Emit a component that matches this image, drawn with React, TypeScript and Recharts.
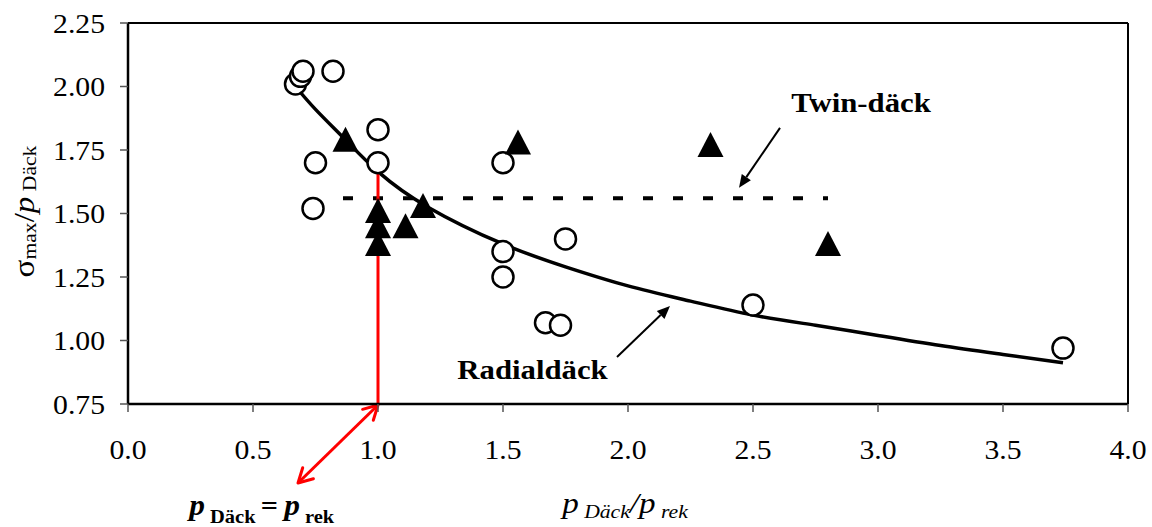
import React from "react";
import {
  ComposedChart,
  XAxis,
  YAxis,
  Scatter,
  Line,
  ReferenceLine,
  ReferenceDot,
} from "recharts";

// ---- data ----
const xTicks = [0, 0.5, 1.0, 1.5, 2.0, 2.5, 3.0, 3.5, 4.0];
const yTicks = [0.75, 1.0, 1.25, 1.5, 1.75, 2.0, 2.25];

const radialPoints = [
  { x: 0.67, y: 2.01 },
  { x: 0.69, y: 2.04 },
  { x: 0.7, y: 2.06 },
  { x: 0.82, y: 2.06 },
  { x: 0.75, y: 1.7 },
  { x: 0.74, y: 1.52 },
  { x: 1.0, y: 1.83 },
  { x: 1.0, y: 1.7 },
  { x: 1.5, y: 1.7 },
  { x: 1.5, y: 1.35 },
  { x: 1.5, y: 1.25 },
  { x: 1.75, y: 1.4 },
  { x: 1.67, y: 1.07 },
  { x: 1.73, y: 1.06 },
  { x: 2.5, y: 1.14 },
  { x: 3.74, y: 0.97 },
];

const twinPoints = [
  { x: 0.87, y: 1.79 },
  { x: 1.0, y: 1.51 },
  { x: 1.0, y: 1.45 },
  { x: 1.0, y: 1.38 },
  { x: 1.11, y: 1.45 },
  { x: 1.18, y: 1.53 },
  { x: 1.56, y: 1.78 },
  { x: 2.33, y: 1.77 },
  { x: 2.8, y: 1.38 },
];

const radialCurve = [
  { x: 0.67, y: 2.0 },
  { x: 0.75, y: 1.91 },
  { x: 0.87, y: 1.79 },
  { x: 1.0, y: 1.665 },
  { x: 1.2, y: 1.525 },
  { x: 1.5, y: 1.38 },
  { x: 1.75, y: 1.29 },
  { x: 2.0, y: 1.215 },
  { x: 2.25, y: 1.155 },
  { x: 2.5, y: 1.1 },
  { x: 2.75, y: 1.06 },
  { x: 3.0, y: 1.02 },
  { x: 3.25, y: 0.98 },
  { x: 3.5, y: 0.945 },
  { x: 3.74, y: 0.912 },
];

const twinLevel = [
  { x: 0.86, y: 1.56 },
  { x: 2.8, y: 1.56 },
];

const pRef = 1.0;
const pRefCurveValue = 1.66;

// annotation anchors (data coordinates)
const twinLabelPos = { x: 2.932, y: 1.901 };
const twinArrow = [{ x: 2.608, y: 1.837 }, { x: 2.444, y: 1.601 }];
const radialLabelPos = { x: 1.618, y: 0.848 };
const radialArrow = [{ x: 1.956, y: 0.935 }, { x: 2.168, y: 1.136 }];
const redArrow = [{ x: 0.68, y: 0.439 }, { x: 1.0, y: 0.746 }];
const eqLabelPos = { x: 0.535, y: 0.313 };

// ---- styles ----
const FONT = "'Liberation Serif', 'Times New Roman', serif";
const SX = 1.1;
const SXL = 1.14;

const XTick = (props: any) => {
  const { x, y, payload } = props;
  return (
    <g transform={`translate(${x},${y}) scale(${SX},1)`}>
      <text x={0} y={0} dy="0.71em" textAnchor="middle" fontFamily={FONT} fontSize={27} fill="#000">
        {Number(payload.value).toFixed(1)}
      </text>
    </g>
  );
};

const YTick = (props: any) => {
  const { x, y, payload } = props;
  return (
    <g transform={`translate(${x},${y}) scale(${SX},1)`}>
      <text x={0} y={0} dy="0.355em" textAnchor="end" fontFamily={FONT} fontSize={27} fill="#000">
        {Number(payload.value).toFixed(2)}
      </text>
    </g>
  );
};

const circleShape = (p: any) => (
  <circle cx={p.cx} cy={p.cy} r={10.5} fill="#fff" stroke="#000" strokeWidth={2.5} />
);

const triangleShape = (p: any) => (
  <polygon
    points={`${p.cx},${p.cy - 13} ${p.cx - 13},${p.cy + 12} ${p.cx + 13},${p.cy + 12}`}
    fill="#000"
  />
);

const blackArrowShape = (p: any) => {
  const { x1, y1, x2, y2 } = p;
  const ang = Math.atan2(y2 - y1, x2 - x1);
  const L = 13;
  const W = 5.5;
  const bx = x2 - L * Math.cos(ang);
  const by = y2 - L * Math.sin(ang);
  const nx = -Math.sin(ang);
  const ny = Math.cos(ang);
  return (
    <g>
      <line x1={x1} y1={y1} x2={bx} y2={by} stroke="#000" strokeWidth={2} />
      <polygon
        points={`${x2},${y2} ${bx + nx * W},${by + ny * W} ${bx - nx * W},${by - ny * W}`}
        fill="#000"
      />
    </g>
  );
};

const redDoubleArrowShape = (p: any) => {
  const { x1, y1, x2, y2 } = p;
  const head = (tx: number, ty: number, fx: number, fy: number) => {
    const ang = Math.atan2(ty - fy, tx - fx);
    const L = 16;
    const a1 = ang + Math.PI - 0.5;
    const a2 = ang + Math.PI + 0.5;
    return `M${tx + L * Math.cos(a1)},${ty + L * Math.sin(a1)} L${tx},${ty} L${tx + L * Math.cos(a2)},${ty + L * Math.sin(a2)}`;
  };
  return (
    <g>
      <line x1={x1} y1={y1} x2={x2} y2={y2} stroke="#ff0000" strokeWidth={3} />
      <path d={head(x1, y1, x2, y2)} stroke="#ff0000" strokeWidth={3} fill="none" strokeLinecap="round" strokeLinejoin="round" />
      <path d={head(x2, y2, x1, y1)} stroke="#ff0000" strokeWidth={3} fill="none" strokeLinecap="round" strokeLinejoin="round" />
    </g>
  );
};

const boldLabel = (txt: string) => (p: any) => (
  <g transform={`translate(${p.cx},${p.cy}) scale(${SXL},1)`}>
    <text x={0} y={0} textAnchor="middle" fontFamily={FONT} fontWeight="bold" fontSize={27} fill="#000">
      {txt}
    </text>
  </g>
);

const eqLabel = (p: any) => (
  <g transform={`translate(${p.cx},${p.cy}) scale(1.08,1)`}>
    <text x={0} y={0} textAnchor="middle" fontFamily={FONT} fontWeight="bold" fill="#000">
      <tspan fontStyle="italic" fontSize={29}>p</tspan>
      <tspan fontSize={19} dy={8}>{"\u00a0Däck\u00a0"}</tspan>
      <tspan fontSize={28} dy={-8}>{"="}</tspan>
      <tspan fontStyle="italic" fontSize={29}>{"\u2009p"}</tspan>
      <tspan fontSize={19} dy={8}>{"\u00a0rek"}</tspan>
    </text>
  </g>
);

const XLabel = (props: any) => {
  const vb = props.viewBox || { x: 128, y: 404, width: 1000, height: 40 };
  const cx = vb.x + vb.width / 2 - 3;
  const by = vb.y + 109;
  return (
    <g transform={`translate(${cx},${by}) scale(${SXL},1)`}>
      <text x={0} y={0} textAnchor="middle" fontFamily={FONT} fontStyle="italic" fill="#000">
        <tspan fontSize={29}>p</tspan>
        <tspan fontSize={19} dy={5}>{"\u00a0Däck"}</tspan>
        <tspan fontSize={29} dy={-5}>/</tspan>
        <tspan fontSize={29}>p</tspan>
        <tspan fontSize={19} dy={5}>{"\u00a0rek"}</tspan>
      </text>
    </g>
  );
};

const YLabel = (props: any) => {
  const vb = props.viewBox || { x: 0, y: 23, width: 128, height: 381 };
  const cy = vb.y + vb.height / 2 - 2;
  return (
    <g transform={`translate(33.5,${cy}) rotate(-90) scale(${SXL},1)`}>
      <text x={0} y={0} textAnchor="middle" fontFamily={FONT} fill="#000">
        <tspan fontSize={29}>σ</tspan>
        <tspan fontSize={19} dy={2}>max</tspan>
        <tspan fontSize={29} dy={-2}>/</tspan>
        <tspan fontSize={29} fontStyle="italic">p</tspan>
        <tspan fontSize={19} dy={2}>{"\u00a0Däck"}</tspan>
      </text>
    </g>
  );
};

export default function App() {
  return (
    <div style={{ position: "absolute", left: 0, top: 0, width: 1152, height: 527, background: "#fff" }}>
      <ComposedChart width={1152} height={527} margin={{ top: 23, right: 24, left: 0, bottom: 83 }}>
        <XAxis
          type="number"
          dataKey="x"
          domain={[0, 4]}
          ticks={xTicks}
          allowDataOverflow
          height={40}
          axisLine={{ stroke: "#000", strokeWidth: 2.5 }}
          tickLine={{ stroke: "#555", strokeWidth: 1.5 }}
          tickSize={8}
          tickMargin={28}
          tick={<XTick />}
          label={{ content: (p: any) => <XLabel {...p} /> }}
        />
        <YAxis
          type="number"
          dataKey="y"
          domain={[0.75, 2.25]}
          ticks={yTicks}
          allowDataOverflow
          width={128}
          axisLine={{ stroke: "#000", strokeWidth: 2.5 }}
          tickLine={{ stroke: "#555", strokeWidth: 1.5 }}
          tickSize={8}
          tickMargin={15}
          tick={<YTick />}
          label={{ content: (p: any) => <YLabel {...p} /> }}
        />
        <ReferenceLine y={2.25} stroke="#000" strokeWidth={2} />
        <ReferenceLine x={4} stroke="#000" strokeWidth={2} />

        <Scatter data={radialPoints} shape={circleShape} isAnimationActive={false} />
        <Line
          data={radialCurve}
          dataKey="y"
          type="natural"
          stroke="#000"
          strokeWidth={3.5}
          dot={false}
          activeDot={false}
          isAnimationActive={false}
        />
        <Line
          data={twinLevel}
          dataKey="y"
          type="linear"
          stroke="#000"
          strokeWidth={4}
          strokeDasharray="10 20"
          dot={false}
          activeDot={false}
          isAnimationActive={false}
        />
        <Scatter data={twinPoints} shape={triangleShape} isAnimationActive={false} />

        <ReferenceLine
          segment={[{ x: pRef, y: 0.75 }, { x: pRef, y: pRefCurveValue }]}
          stroke="#ff0000"
          strokeWidth={3}
          ifOverflow="visible"
        />
        <ReferenceLine segment={redArrow} shape={redDoubleArrowShape} ifOverflow="visible" />
        <ReferenceLine segment={twinArrow} shape={blackArrowShape} ifOverflow="visible" />
        <ReferenceLine segment={radialArrow} shape={blackArrowShape} ifOverflow="visible" />

        <ReferenceDot x={twinLabelPos.x} y={twinLabelPos.y} r={0} ifOverflow="visible" shape={boldLabel("Twin-däck")} />
        <ReferenceDot x={radialLabelPos.x} y={radialLabelPos.y} r={0} ifOverflow="visible" shape={boldLabel("Radialdäck")} />
        <ReferenceDot x={eqLabelPos.x} y={eqLabelPos.y} r={0} ifOverflow="visible" shape={eqLabel} />
      </ComposedChart>
    </div>
  );
}
